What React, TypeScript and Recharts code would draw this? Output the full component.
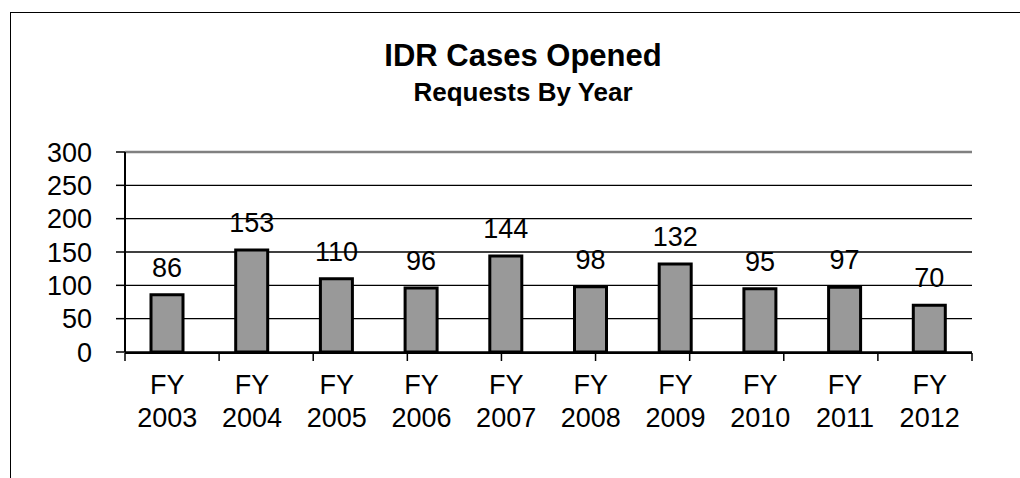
import React from "react";
import {
  BarChart,
  Bar,
  XAxis,
  YAxis,
  CartesianGrid,
  LabelList,
  ReferenceLine,
} from "recharts";

// values
const categories = [
  "FY 2003", "FY 2004", "FY 2005", "FY 2006", "FY 2007",
  "FY 2008", "FY 2009", "FY 2010", "FY 2011", "FY 2012",
];
const casesOpened = [86, 153, 110, 96, 144, 98, 132, 95, 97, 70];
const yTicks = [0, 50, 100, 150, 200, 250, 300];
// category boundaries, used only for the tick marks under the axis
const edgeTicks = [0, 1, 2, 3, 4, 5, 6, 7, 8, 9, 10];

const rows = categories.map((name, i) => ({ name, value: casesOpened[i] }));

const FONT = "'Liberation Sans', Arial, sans-serif";

// category axis is only 1px tall, so the label is pushed down from the axis line
const TwoLineTick = (props: any) => {
  const { x, y, payload } = props;
  const [a, b] = String(payload.value).split(" ");
  return (
    <text x={x} y={y} textAnchor="middle" fontSize={27} fill="#000" fontFamily={FONT}>
      <tspan x={x} dy={42}>{a}</tspan>
      <tspan x={x} dy={33}>{b}</tspan>
    </text>
  );
};

export default function App() {
  return (
    <div
      style={{
        position: "absolute",
        left: 0,
        top: 0,
        width: 1020,
        height: 478,
        overflow: "hidden",
        background: "#fff",
        fontFamily: FONT,
      }}
    >
      <div
        style={{
          position: "absolute",
          left: 10,
          top: 12,
          width: 1100,
          height: 600,
          borderLeft: "1px solid #000",
          borderTop: "1px solid #000",
        }}
      />
      <div
        style={{
          position: "absolute",
          left: 0,
          top: 40,
          width: 1046,
          textAlign: "center",
          fontSize: 31,
          lineHeight: "31px",
          fontWeight: 700,
        }}
      >
        IDR Cases Opened
      </div>
      <div
        style={{
          position: "absolute",
          left: 0,
          top: 79,
          width: 1046,
          textAlign: "center",
          fontSize: 26,
          lineHeight: "26px",
          fontWeight: 700,
        }}
      >
        Requests By Year
      </div>
      <div style={{ position: "absolute", left: 0, top: 0 }}>
        <BarChart
          width={1020}
          height={478}
          data={rows}
          margin={{ top: 152, right: 48, bottom: 115, left: 0 }}
        >
          <CartesianGrid vertical={false} stroke="#000" strokeWidth={1.4} />
          <XAxis
            dataKey="name"
            height={1}
            axisLine={false}
            tickLine={false}
            tickSize={0}
            tickMargin={0}
            interval={0}
            tick={<TwoLineTick />}
          />
          <XAxis
            xAxisId="edge"
            type="number"
            domain={[0, 10]}
            ticks={edgeTicks}
            allowDataOverflow
            interval={0}
            height={10}
            tickFormatter={() => ""}
            tickSize={8}
            axisLine={{ stroke: "#000", strokeWidth: 2 }}
            tickLine={{ stroke: "#000", strokeWidth: 1.5 }}
          />
          <YAxis
            domain={[0, 300]}
            ticks={yTicks}
            interval={0}
            width={125}
            tickSize={9}
            tickMargin={24}
            axisLine={{ stroke: "#000", strokeWidth: 2 }}
            tickLine={{ stroke: "#000", strokeWidth: 1.5 }}
            tick={{ fill: "#000", fontSize: 27, fontFamily: FONT }}
          />
          <ReferenceLine y={300} stroke="#808080" strokeWidth={2.5} />
          <ReferenceLine xAxisId="edge" x={10} stroke="#808080" strokeWidth={3} />
          <Bar
            dataKey="value"
            barSize={32}
            fill="#999999"
            stroke="#000"
            strokeWidth={3}
            isAnimationActive={false}
          >
            <LabelList
              dataKey="value"
              position="top"
              offset={18}
              fill="#000"
              fontSize={27}
              fontFamily={FONT}
            />
          </Bar>
        </BarChart>
      </div>
    </div>
  );
}
